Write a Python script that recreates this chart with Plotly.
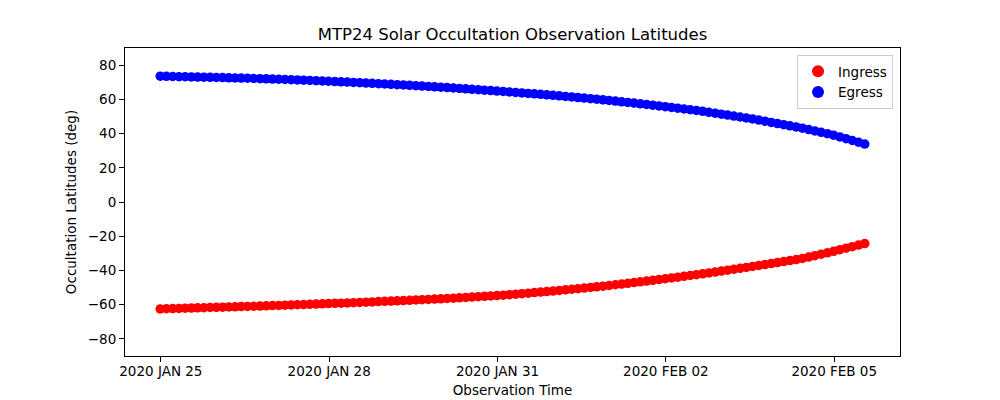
import plotly.graph_objects as go

# Observation times, expressed as day-of-January 2020 (e.g. 33.0 = 2020 FEB 02 00:00)
obs_day = [25.79, 25.89, 25.99, 26.09, 26.19, 26.29, 26.39, 26.49, 26.59, 26.69,
           26.79, 26.89, 26.99, 27.09, 27.19, 27.29, 27.39, 27.49, 27.59, 27.69,
           27.79, 27.89, 27.99, 28.09, 28.19, 28.29, 28.39, 28.49, 28.59, 28.69,
           28.79, 28.89, 28.99, 29.09, 29.19, 29.29, 29.39, 29.49, 29.59, 29.69,
           29.79, 29.89, 29.99, 30.09, 30.19, 30.29, 30.39, 30.49, 30.59, 30.69,
           30.79, 30.89, 30.99, 31.09, 31.19, 31.29, 31.39, 31.49, 31.59, 31.69,
           31.79, 31.89, 31.99, 32.09, 32.19, 32.29, 32.39, 32.49, 32.59, 32.69,
           32.79, 32.89, 32.99, 33.09, 33.19, 33.29, 33.39, 33.49, 33.59, 33.69,
           33.79, 33.89, 33.99, 34.09, 34.19, 34.29, 34.39, 34.49, 34.59, 34.69,
           34.79, 34.89, 34.99, 35.09, 35.19, 35.29, 35.39, 35.49, 35.59, 35.69,
           35.79, 35.89, 35.99, 36.09, 36.19, 36.29, 36.39, 36.49, 36.59, 36.69,
           36.79, 36.89, 36.99, 37.09]

ingress_lat = [-62.50, -62.39, -62.28, -62.17, -62.06, -61.96, -61.85, -61.74, -61.64, -61.54,
               -61.44, -61.34, -61.24, -61.14, -61.04, -60.93, -60.80, -60.68, -60.55, -60.43,
               -60.30, -60.18, -60.05, -59.92, -59.78, -59.65, -59.51, -59.37, -59.24, -59.10,
               -58.96, -58.82, -58.67, -58.52, -58.37, -58.22, -58.07, -57.92, -57.77, -57.61,
               -57.43, -57.26, -57.08, -56.91, -56.73, -56.56, -56.39, -56.19, -55.98, -55.77,
               -55.55, -55.34, -55.13, -54.92, -54.71, -54.46, -54.16, -53.86, -53.56, -53.26,
               -52.96, -52.66, -52.36, -52.04, -51.69, -51.34, -50.99, -50.64, -50.29, -49.94,
               -49.60, -49.21, -48.79, -48.36, -47.94, -47.52, -47.09, -46.67, -46.24, -45.80,
               -45.33, -44.85, -44.38, -43.91, -43.43, -42.96, -42.49, -41.99, -41.45, -40.92,
               -40.38, -39.85, -39.31, -38.77, -38.24, -37.69, -37.11, -36.54, -35.97, -35.39,
               -34.82, -34.25, -33.67, -33.01, -32.17, -31.34, -30.50, -29.67, -28.80, -27.89,
               -26.99, -26.08, -25.18, -24.27]

egress_lat = [73.50, 73.42, 73.34, 73.26, 73.19, 73.11, 73.03, 72.95, 72.86, 72.77,
              72.69, 72.60, 72.51, 72.42, 72.33, 72.23, 72.10, 71.98, 71.85, 71.73,
              71.60, 71.48, 71.35, 71.21, 71.05, 70.88, 70.72, 70.56, 70.40, 70.23,
              70.07, 69.90, 69.71, 69.52, 69.34, 69.15, 68.96, 68.78, 68.59, 68.39,
              68.17, 67.96, 67.75, 67.54, 67.33, 67.11, 66.90, 66.67, 66.40, 66.14,
              65.88, 65.62, 65.36, 65.09, 64.83, 64.57, 64.29, 64.02, 63.75, 63.47,
              63.20, 62.93, 62.65, 62.35, 62.03, 61.70, 61.38, 61.05, 60.73, 60.41,
              60.08, 59.73, 59.34, 58.96, 58.57, 58.19, 57.80, 57.41, 57.02, 56.61,
              56.16, 55.71, 55.27, 54.82, 54.37, 53.92, 53.47, 52.98, 52.43, 51.88,
              51.33, 50.78, 50.23, 49.68, 49.14, 48.55, 47.88, 47.21, 46.53, 45.86,
              45.19, 44.51, 43.84, 43.12, 42.32, 41.52, 40.72, 39.93, 39.07, 38.03,
              36.99, 35.95, 34.92, 33.88]

tick_days = [25.8, 28.5, 31.2, 33.9, 36.6]
tick_labels = ["2020 JAN 25", "2020 JAN 28", "2020 JAN 31", "2020 FEB 02", "2020 FEB 05"]
y_ticks = [-80, -60, -40, -20, 0, 20, 40, 60, 80]

font_family = "DejaVu Sans"

fig = go.Figure()
fig.add_trace(go.Scatter(x=obs_day, y=ingress_lat, mode="markers", name="Ingress",
                         marker=dict(color="red", size=9.5, line=dict(width=0))))
fig.add_trace(go.Scatter(x=obs_day, y=egress_lat, mode="markers", name="Egress",
                         marker=dict(color="blue", size=9.5, line=dict(width=0))))

span = obs_day[-1] - obs_day[0]
x_range = [obs_day[0] - 0.05 * span, obs_day[-1] + 0.05 * span]

axis_common = dict(showline=True, linecolor="black", linewidth=1, mirror=True,
                   ticks="outside", ticklen=5, tickwidth=1, tickcolor="black",
                   showgrid=False, zeroline=False, automargin=False,
                   tickfont=dict(family=font_family, size=13.5, color="black"))

# The page body adds an 8px offset, so the figure is sized 992x392.
fig.update_layout(
    width=992, height=392,
    margin=dict(l=117, r=100, t=40, b=44),
    paper_bgcolor="white", plot_bgcolor="white",
    font=dict(family=font_family, size=13.5, color="black"),
    title=dict(text="MTP24 Solar Occultation Observation Latitudes",
               x=0.5, xref="paper", xanchor="center",
               y=1 - 26 / 392, yref="container", yanchor="middle",
               font=dict(family=font_family, size=16.5, color="black")),
    xaxis=dict(range=x_range, tickmode="array", tickvals=tick_days, ticktext=tick_labels,
               ticklabelstandoff=-2,
               title=dict(text="Observation Time", standoff=7,
                          font=dict(family=font_family, size=13.5)),
               **axis_common),
    yaxis=dict(range=[-90, 90], tickmode="array", tickvals=y_ticks,
               title=dict(text="Occultation Latitudes (deg)", standoff=8,
                          font=dict(family=font_family, size=13.5)),
               **axis_common),
    legend=dict(x=0.991, y=0.977, xanchor="right", yanchor="top",
                bgcolor="rgba(255,255,255,0.8)", bordercolor="#cccccc", borderwidth=1,
                font=dict(family=font_family, size=13.5), tracegroupgap=0,
                itemsizing="constant"),
    showlegend=True,
)

fig.write_html("out.html")
